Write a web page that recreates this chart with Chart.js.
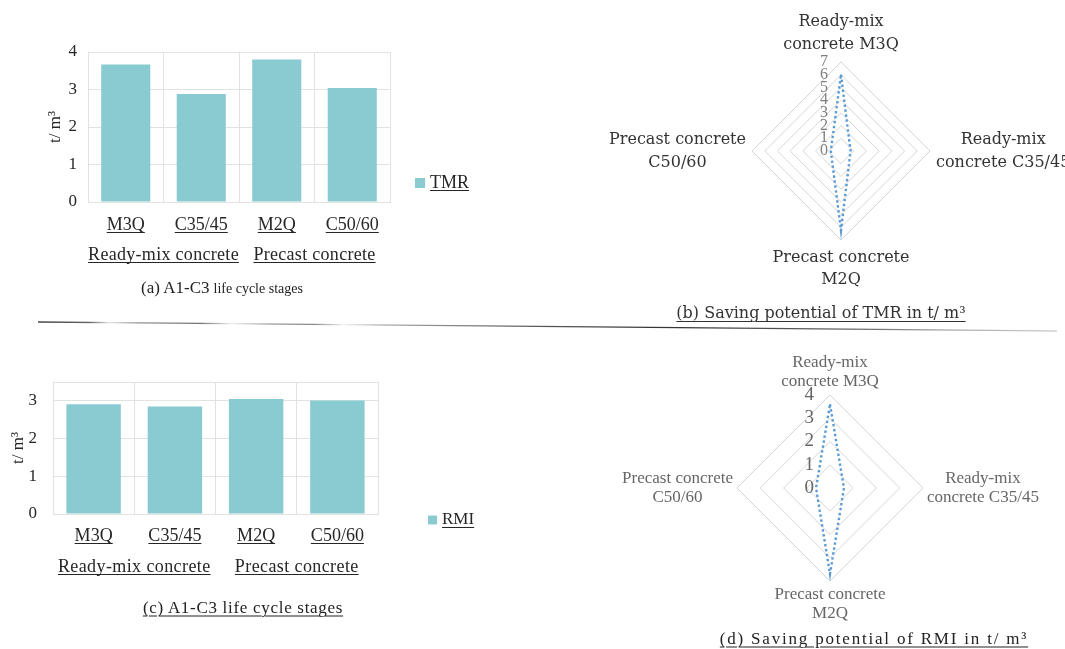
<!DOCTYPE html>
<html>
<head>
<meta charset="utf-8">
<title>TMR and RMI of concrete types</title>
<script src="https://cdn.jsdelivr.net/npm/chart.js@4.4.1/dist/chart.umd.min.js"></script>
<style>
  body { margin: 0; background: #fff; }
  #figure { position: relative; width: 1065px; height: 649px; overflow: hidden; font-family: "Liberation Serif", serif; color: #222; }
  #figure canvas, #figure svg { position: absolute; }
  .caption { position: absolute; white-space: nowrap; line-height: 1; transform: translate(-50%, -50%); }
  .ul { text-decoration: underline; text-decoration-thickness: 1px; text-underline-offset: 3px; }
</style>
</head>
<body>
<div id="figure">
  <canvas id="tmrBars" width="600" height="300" style="left:0;top:0"></canvas>
  <canvas id="tmrRadar" width="465" height="305" style="left:600px;top:0"></canvas>
  <canvas id="rmiBars" width="600" height="309" style="left:0;top:340px"></canvas>
  <canvas id="rmiRadar" width="465" height="309" style="left:600px;top:340px"></canvas>

  <svg width="1065" height="649" style="left:0;top:0">
    <defs>
      <linearGradient id="rule" gradientUnits="userSpaceOnUse" x1="38" y1="0" x2="1057" y2="0">
        <stop offset="0" stop-color="#444"/>
        <stop offset="0.05" stop-color="#666"/>
        <stop offset="0.07" stop-color="#e5e5e5"/>
        <stop offset="0.1" stop-color="#999"/>
        <stop offset="0.16" stop-color="#777"/>
        <stop offset="0.19" stop-color="#eee"/>
        <stop offset="0.23" stop-color="#999"/>
        <stop offset="0.27" stop-color="#888"/>
        <stop offset="0.3" stop-color="#f0f0f0"/>
        <stop offset="0.34" stop-color="#aaa"/>
        <stop offset="0.5" stop-color="#555"/>
        <stop offset="0.62" stop-color="#333"/>
        <stop offset="0.8" stop-color="#666"/>
        <stop offset="0.9" stop-color="#aaa"/>
        <stop offset="1" stop-color="#d0d0d0"/>
      </linearGradient>
    </defs>
    <line x1="38" y1="322" x2="1057" y2="331" stroke="url(#rule)" stroke-width="1.3"/>
  </svg>

  <div class="caption" style="left:222px;top:287px"><span style="font-size:17px">(a) A1-C3</span> <span style="font-size:14px">life cycle stages</span></div>
  <div class="caption ul" style="left:821px;top:313px;font-family:'DejaVu Serif',serif;font-size:16px;color:#333">(b) Saving potential of TMR in t/ m³</div>
  <div class="caption ul" style="left:243px;top:607px;font-size:17px;letter-spacing:0.7px">(c) A1-C3 life cycle stages</div>
  <div class="caption ul" style="left:874px;top:638px;font-size:17px;letter-spacing:1.8px">(d) Saving potential of RMI in t/ m³</div>
</div>

<script>
// concrete types and their two producer groups
const categories = ['M3Q', 'C35/45', 'M2Q', 'C50/60'];
const groups = ['Ready-mix concrete', 'Precast concrete'];

// A1-C3 totals, t/m3
const tmrValues = [3.67, 2.88, 3.80, 3.04];
const rmiValues = [2.91, 2.85, 3.05, 3.01];

// saving potential, t/m3
const radarAxes = [
  ['Ready-mix', 'concrete M3Q'],
  ['Ready-mix', 'concrete C35/45'],
  ['Precast concrete', 'M2Q'],
  ['Precast concrete', 'C50/60']
];
const tmrSaving = [6.0, 0.75, 6.25, 0.8];
const rmiSaving = [3.6, 0.6, 3.7, 0.6];

const barColor = '#8acbd1';
const lineColor = '#5b9bd5';
const gridColor = '#e2e2e2';
const textColor = '#262626';

Chart.defaults.font.family = "'Liberation Serif', serif";
Chart.defaults.animation = false;

function underlined(ctx, text, x, y, gap) {
  ctx.fillText(text, x, y);
  const w = ctx.measureText(text).width;
  const left = ctx.textAlign === 'center' ? x - w / 2 : x;
  ctx.fillRect(left, y + gap, w, 1);
}

// category names, group names and the legend entry, all underlined
const barLabels = {
  id: 'barLabels',
  afterDraw(chart, args, opts) {
    const { ctx } = chart;
    const x = chart.scales.x;
    ctx.save();
    ctx.fillStyle = textColor;
    ctx.textAlign = 'center';
    ctx.textBaseline = 'middle';
    ctx.font = opts.font;
    ctx.letterSpacing = opts.spacing;
    chart.data.labels.forEach((text, i) => {
      underlined(ctx, text, x.getPixelForValue(i), opts.tickY, opts.gap);
    });
    ctx.letterSpacing = opts.groupSpacing;
    groups.forEach((text, k) => {
      const cx = (x.getPixelForValue(k * 2) + x.getPixelForValue(k * 2 + 1)) / 2;
      underlined(ctx, text, cx, opts.groupY, opts.gap);
    });
    ctx.letterSpacing = '0px';
    const ds = chart.data.datasets[0];
    const box = opts.box;
    ctx.fillStyle = ds.backgroundColor;
    ctx.fillRect(opts.legendX, opts.legendY - box / 2, box, box);
    ctx.fillStyle = textColor;
    ctx.textAlign = 'left';
    ctx.font = opts.legendFont;
    underlined(ctx, ds.label, opts.legendX + box + 5, opts.legendY, opts.gap);
    ctx.restore();
  }
};

// scale numbers left of the vertical axis and two-line axis names
const radarLabels = {
  id: 'radarLabels',
  afterDraw(chart, args, opts) {
    const { ctx } = chart;
    const r = chart.scales.r;
    ctx.save();
    ctx.font = opts.tickFont;
    ctx.fillStyle = opts.tickColor;
    ctx.textAlign = 'right';
    ctx.textBaseline = 'middle';
    r.ticks.forEach(t => {
      ctx.fillText(t.label, r.xCenter - opts.tickGap, r.yCenter - r.getDistanceFromCenterForValue(t.value));
    });
    ctx.font = opts.font;
    ctx.fillStyle = opts.color;
    ctx.textAlign = 'center';
    chart.data.labels.forEach((lines, i) => {
      const w = Math.max(...lines.map(l => ctx.measureText(l).width));
      const h = lines.length * opts.lineHeight;
      const angle = r.getIndexAngle(i) - Math.PI / 2;
      const dx = Math.round(Math.cos(angle));
      const dy = Math.round(Math.sin(angle));
      const reach = r.drawingArea + opts.pad;
      const cx = r.xCenter + dx * (reach + w / 2);
      const cy = r.yCenter + dy * (reach + h / 2);
      lines.forEach((line, j) => {
        ctx.fillText(line, cx, cy + (j - (lines.length - 1) / 2) * opts.lineHeight);
      });
    });
    ctx.restore();
  }
};

function barChart(id, label, values, o) {
  return new Chart(document.getElementById(id), {
    type: 'bar',
    data: {
      labels: categories,
      datasets: [{
        label: label,
        data: values,
        backgroundColor: barColor,
        categoryPercentage: 1,
        barPercentage: o.barPct
      }]
    },
    options: {
      responsive: false,
      layout: { padding: o.padding },
      scales: {
        x: {
          grid: { color: gridColor, drawTicks: false },
          border: { color: gridColor },
          ticks: { display: false },
          afterFit: s => { s.height = 0; }
        },
        y: {
          min: 0,
          max: o.max,
          grid: { color: gridColor, drawTicks: false },
          border: { color: gridColor },
          ticks: {
            stepSize: 1,
            padding: o.tickPad,
            color: textColor,
            font: { size: o.tickSize },
            callback: v => Number.isInteger(v) ? v : ''
          },
          title: { display: true, text: 't/ m³', color: textColor, font: { size: 17 } },
          afterFit: s => { s.width = o.axisWidth; }
        }
      },
      plugins: {
        legend: { display: false },
        tooltip: { enabled: false },
        barLabels: o.labels
      }
    },
    plugins: [barLabels]
  });
}

function radarChart(id, label, values, o) {
  return new Chart(document.getElementById(id), {
    type: 'radar',
    data: {
      labels: radarAxes,
      datasets: [{
        label: label,
        data: values,
        borderColor: lineColor,
        borderWidth: 2.4,
        borderDash: [2.4, 2.6],
        fill: false,
        pointRadius: 0,
        tension: 0
      }]
    },
    options: {
      responsive: false,
      layout: { padding: o.padding },
      scales: {
        r: {
          min: 0,
          max: o.max,
          ticks: { stepSize: 1, display: false },
          grid: { color: '#d6d6d6' },
          angleLines: { display: false },
          pointLabels: { display: false }
        }
      },
      plugins: {
        legend: { display: false },
        tooltip: { enabled: false },
        radarLabels: o.labels
      }
    },
    plugins: [radarLabels]
  });
}

barChart('tmrBars', 'TMR', tmrValues, {
  max: 4,
  barPct: 0.65,
  padding: { left: 41, right: 210, top: 52, bottom: 98 },
  axisWidth: 47,
  tickPad: 11,
  tickSize: 17,
  labels: {
    font: "18px 'Liberation Serif'", spacing: '0px', groupSpacing: '0.3px',
    tickY: 225, groupY: 255, gap: 7,
    box: 10, legendX: 415, legendY: 183, legendFont: "18px 'Liberation Serif'"
  }
});

barChart('rmiBars', 'RMI', rmiValues, {
  max: 3.5,
  barPct: 0.67,
  padding: { left: 4, right: 222, top: 42, bottom: 135 },
  axisWidth: 49,
  tickPad: 16,
  tickSize: 17,
  labels: {
    font: "18px 'Liberation Serif'", spacing: '0px', groupSpacing: '0.4px',
    tickY: 196, groupY: 227, gap: 7,
    box: 9, legendX: 428, legendY: 180, legendFont: "17px 'Liberation Serif'"
  }
});

radarChart('tmrRadar', 'TMR', tmrSaving, {
  max: 7,
  padding: { left: 152, right: 135, top: 62, bottom: 65 },
  labels: {
    font: "16px 'DejaVu Serif'", color: '#333', lineHeight: 22.7, pad: 6,
    tickFont: "16px 'Liberation Serif'", tickColor: '#7f7f7f', tickGap: 13
  }
});

radarChart('rmiRadar', 'RMI', rmiSaving, {
  max: 4,
  padding: { left: 137, right: 142, top: 55, bottom: 68 },
  labels: {
    font: "17px 'Liberation Serif'", color: '#666', lineHeight: 19, pad: 4,
    tickFont: "19px 'Liberation Serif'", tickColor: '#666', tickGap: 16
  }
});
</script>
</body>
</html>
